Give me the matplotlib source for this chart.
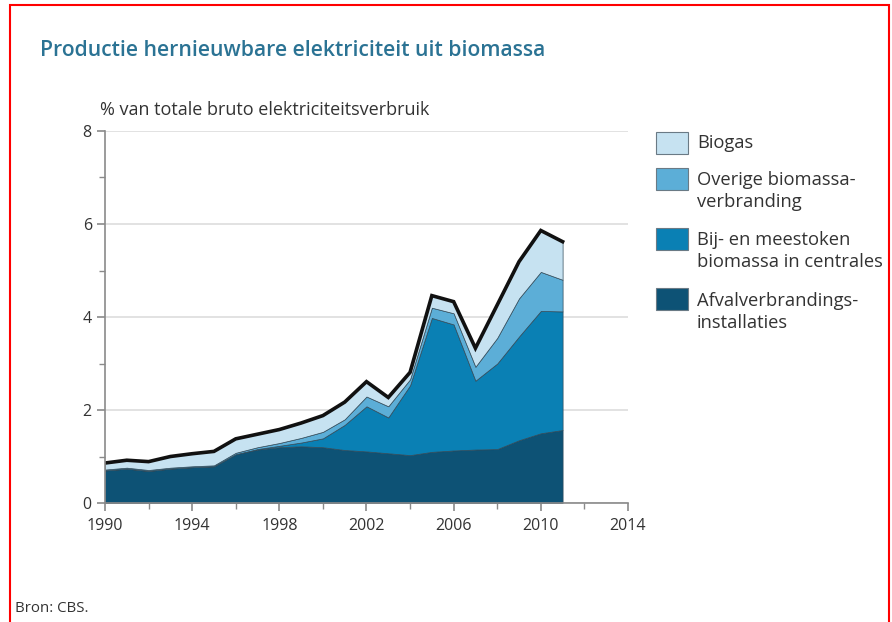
import numpy as np
import matplotlib.pyplot as plt
from matplotlib.patches import Rectangle

plt.rcParams['font.family'] = ['Open Sans', 'DejaVu Sans']

# data (% van totale bruto elektriciteitsverbruik)
years = np.arange(1990, 2012)
afval = [0.70, 0.74, 0.69, 0.74, 0.77, 0.79, 1.05, 1.15, 1.20, 1.22, 1.20,
         1.14, 1.11, 1.07, 1.03, 1.10, 1.13, 1.15, 1.16, 1.35, 1.50, 1.57]
meestoken = [0.00, 0.00, 0.00, 0.00, 0.00, 0.00, 0.00, 0.01, 0.03, 0.08, 0.19,
             0.54, 0.97, 0.77, 1.50, 2.88, 2.71, 1.48, 1.84, 2.23, 2.63, 2.55]
overige = [0.02, 0.02, 0.02, 0.02, 0.02, 0.02, 0.03, 0.04, 0.06, 0.10, 0.14,
           0.12, 0.21, 0.24, 0.13, 0.22, 0.24, 0.30, 0.55, 0.82, 0.84, 0.68]
biogas = [0.14, 0.16, 0.18, 0.24, 0.27, 0.30, 0.30, 0.28, 0.29, 0.32, 0.35,
          0.37, 0.32, 0.19, 0.15, 0.26, 0.25, 0.40, 0.71, 0.79, 0.89, 0.82]

labels = ['Afvalverbrandings-\ninstallaties', 'Bij- en meestoken\nbiomassa in centrales',
          'Overige biomassa-\nverbranding', 'Biogas']
colors = ['#0d5275', '#0a80b4', '#5caed7', '#c6e2f1']

fig = plt.figure(figsize=(8.92, 6.22), dpi=100)
ax = fig.add_axes([0.1177, 0.1913, 0.5863, 0.5981])

ax.stackplot(years, afval, meestoken, overige, biogas, colors=colors,
             edgecolor='#2f4a5a', linewidth=0.5)
total = np.sum([afval, meestoken, overige, biogas], axis=0)
ax.plot(years, total, color='#111111', lw=2.6, solid_joinstyle='miter')

ax.set_xlim(1990, 2014)
ax.set_ylim(0, 8)
ax.set_xticks(range(1990, 2015, 4))
ax.set_xticks(range(1990, 2015, 2), minor=True)
ax.set_yticks(range(0, 9, 2))
ax.set_yticks(range(1, 8, 2), minor=True)
for s in ['top', 'right']:
    ax.spines[s].set_visible(False)
for s in ['left', 'bottom']:
    ax.spines[s].set_color('#8a8a8a')
    ax.spines[s].set_linewidth(1.2)
ax.tick_params(which='both', colors='#8a8a8a', labelcolor='#333333', labelsize=11.5)
ax.tick_params(which='major', length=6, width=1.2)
ax.tick_params(which='minor', length=4, width=1.0)
ax.tick_params(axis='x', pad=5)
ax.grid(axis='y', color='#dddddd', lw=1.2)
ax.set_axisbelow(True)

# legend drawn by hand to keep the picture's layout
leg_y = [143, 191, 251, 312]
for i, y in enumerate(leg_y):
    k = 3 - i
    fig.patches.append(Rectangle((656 / 892, 1 - (leg_y[0] + 11 + [0, 36, 96, 156][i]) / 622),
                                 32 / 892, 22 / 622,
                                 transform=fig.transFigure, facecolor=colors[k],
                                 edgecolor='#6a7a85', lw=0.8))
    fig.text(697 / 892, 1 - y / 622, labels[k], fontsize=13.2, color='#333333',
             va='center', ha='left', linespacing=1.33)

fig.text(40 / 892, 1 - 50 / 622, 'Productie hernieuwbare elektriciteit uit biomassa',
         fontsize=15.2, color='#2b7394', fontweight='semibold', va='center')
fig.text(100 / 892, 1 - 110 / 622, '% van totale bruto elektriciteitsverbruik',
         fontsize=13, color='#333333', va='center')
fig.text(15 / 892, 1 - 608 / 622, 'Bron: CBS.', fontsize=10.8, color='#333333', va='center')

# red frame of the screenshot
fig.patches.append(Rectangle((10 / 892, -0.1), 879 / 892, 1 - 5 / 622 + 0.1,
                             transform=fig.transFigure, fill=False,
                             edgecolor='#ff0000', lw=1.5))

fig.savefig('out.png', dpi=100)
